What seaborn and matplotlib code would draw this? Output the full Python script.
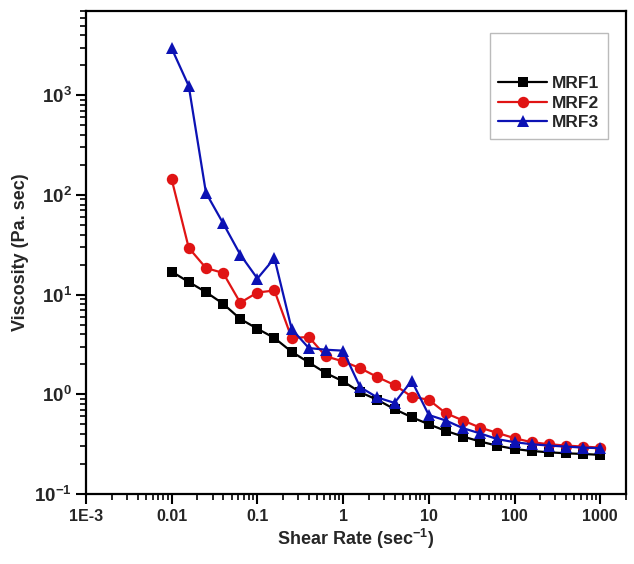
import numpy as np
import pandas as pd
import matplotlib
matplotlib.use("Agg")
import matplotlib.pyplot as plt
import seaborn as sns
from matplotlib.ticker import FixedLocator, FixedFormatter, LogLocator, NullFormatter

# ---- data ----
shear_rate = [0.01, 0.0158, 0.0251, 0.0398, 0.0631, 0.1, 0.158, 0.251, 0.398, 0.631,
              1.0, 1.58, 2.51, 3.98, 6.31, 10.0, 15.8, 25.1, 39.8, 63.1,
              100.0, 158.0, 251.0, 398.0, 631.0, 1000.0]
mrf1 = [17.0, 13.4, 10.6, 8.1, 5.7, 4.55, 3.67, 2.67, 2.09, 1.63,
        1.35, 1.05, 0.88, 0.71, 0.59, 0.50, 0.43, 0.377, 0.336, 0.305,
        0.283, 0.270, 0.262, 0.256, 0.252, 0.247]
mrf2 = [143.0, 29.5, 18.5, 16.5, 8.3, 10.5, 11.0, 3.67, 3.76, 2.40,
        2.14, 1.83, 1.49, 1.24, 0.95, 0.88, 0.647, 0.546, 0.463, 0.41,
        0.363, 0.331, 0.316, 0.306, 0.299, 0.292]
mrf3 = [2950.0, 1240.0, 105.0, 52.0, 25.2, 14.5, 23.2, 4.52, 2.91, 2.80,
        2.74, 1.18, 0.93, 0.82, 1.37, 0.62, 0.546, 0.457, 0.405, 0.355,
        0.331, 0.316, 0.306, 0.299, 0.292, 0.288]
series_names = ["MRF1", "MRF2", "MRF3"]
x_ticks = [1e-3, 1e-2, 1e-1, 1, 10, 100, 1000]
x_tick_labels = ["1E-3", "0.01", "0.1", "1", "10", "100", "1000"]
y_ticks = [1e-1, 1, 10, 100, 1000]
y_tick_labels = [r"$\mathbf{10^{-1}}$", r"$\mathbf{10^{0}}$", r"$\mathbf{10^{1}}$",
                 r"$\mathbf{10^{2}}$", r"$\mathbf{10^{3}}$"]

df = pd.DataFrame({
    "Shear Rate": shear_rate * 3,
    "Viscosity": mrf1 + mrf2 + mrf3,
    "Sample": [series_names[0]] * len(mrf1) + [series_names[1]] * len(mrf2) + [series_names[2]] * len(mrf3),
})

sns.set_style("ticks")
plt.rcParams["font.family"] = ["Liberation Sans", "DejaVu Sans"]
plt.rcParams["font.weight"] = "bold"
plt.rcParams["mathtext.fontset"] = "custom"
plt.rcParams["mathtext.bf"] = "Liberation Sans:bold"
plt.rcParams["mathtext.rm"] = "Liberation Sans:bold"

fig = plt.figure(figsize=(6.34, 5.64), dpi=100)
ax = fig.add_axes([86 / 634, 1 - 494 / 564, (626 - 86) / 634, (494 - 11) / 564])

palette = {"MRF1": "#000000", "MRF2": "#e01414", "MRF3": "#0c12b4"}
markers = {"MRF1": "s", "MRF2": "o", "MRF3": "^"}
msizes = {"MRF1": 6.8, "MRF2": 8.2, "MRF3": 8.6}
for name in series_names:
    sub = df[df["Sample"] == name]
    sns.lineplot(data=sub, x="Shear Rate", y="Viscosity", color=palette[name],
                 marker=markers[name], markersize=msizes[name], markeredgewidth=0,
                 linewidth=1.6, label=name, ax=ax)

ax.set_xscale("log")
ax.set_yscale("log")
ax.set_xlim(1e-3, 2000)
ax.set_ylim(0.1, 7000)

ax.xaxis.set_major_locator(FixedLocator(x_ticks))
ax.xaxis.set_major_formatter(FixedFormatter(x_tick_labels))
ax.yaxis.set_major_locator(FixedLocator(y_ticks))
ax.yaxis.set_major_formatter(FixedFormatter(y_tick_labels))
ax.xaxis.set_minor_locator(LogLocator(base=10, subs=np.arange(2, 10), numticks=20))
ax.yaxis.set_minor_locator(LogLocator(base=10, subs=np.arange(2, 10), numticks=20))
ax.xaxis.set_minor_formatter(NullFormatter())
ax.yaxis.set_minor_formatter(NullFormatter())

ax.tick_params(axis="both", which="major", direction="out", length=7, width=1.5,
               pad=4, color="black")
ax.tick_params(axis="x", which="major", labelsize=11.5)
ax.tick_params(axis="y", which="major", labelsize=13.5, pad=3)
ax.tick_params(axis="both", which="minor", direction="out", length=4, width=1.2, color="black")
for lab in ax.get_xticklabels() + ax.get_yticklabels():
    lab.set_fontweight("bold")

for sp in ax.spines.values():
    sp.set_visible(True)
    sp.set_linewidth(1.6)
    sp.set_color("black")

ax.set_xlabel(r"Shear Rate (sec$^{\mathbf{-1}}$)", fontsize=13, fontweight="bold", labelpad=2)
ax.set_ylabel("Viscosity (Pa. sec)", fontsize=13, fontweight="bold", labelpad=4)

leg = ax.legend(title=" ", loc="upper right", bbox_to_anchor=(0.983, 0.972),
                frameon=True, fancybox=False, edgecolor="#aaaaaa", fontsize=12.5,
                handlelength=2.8, handletextpad=0.3, borderpad=0.5, labelspacing=0.25,
                title_fontsize=22)
leg.get_frame().set_linewidth(1.0)
for t in leg.get_texts():
    t.set_fontweight("bold")

fig.savefig("out.png", dpi=100)
